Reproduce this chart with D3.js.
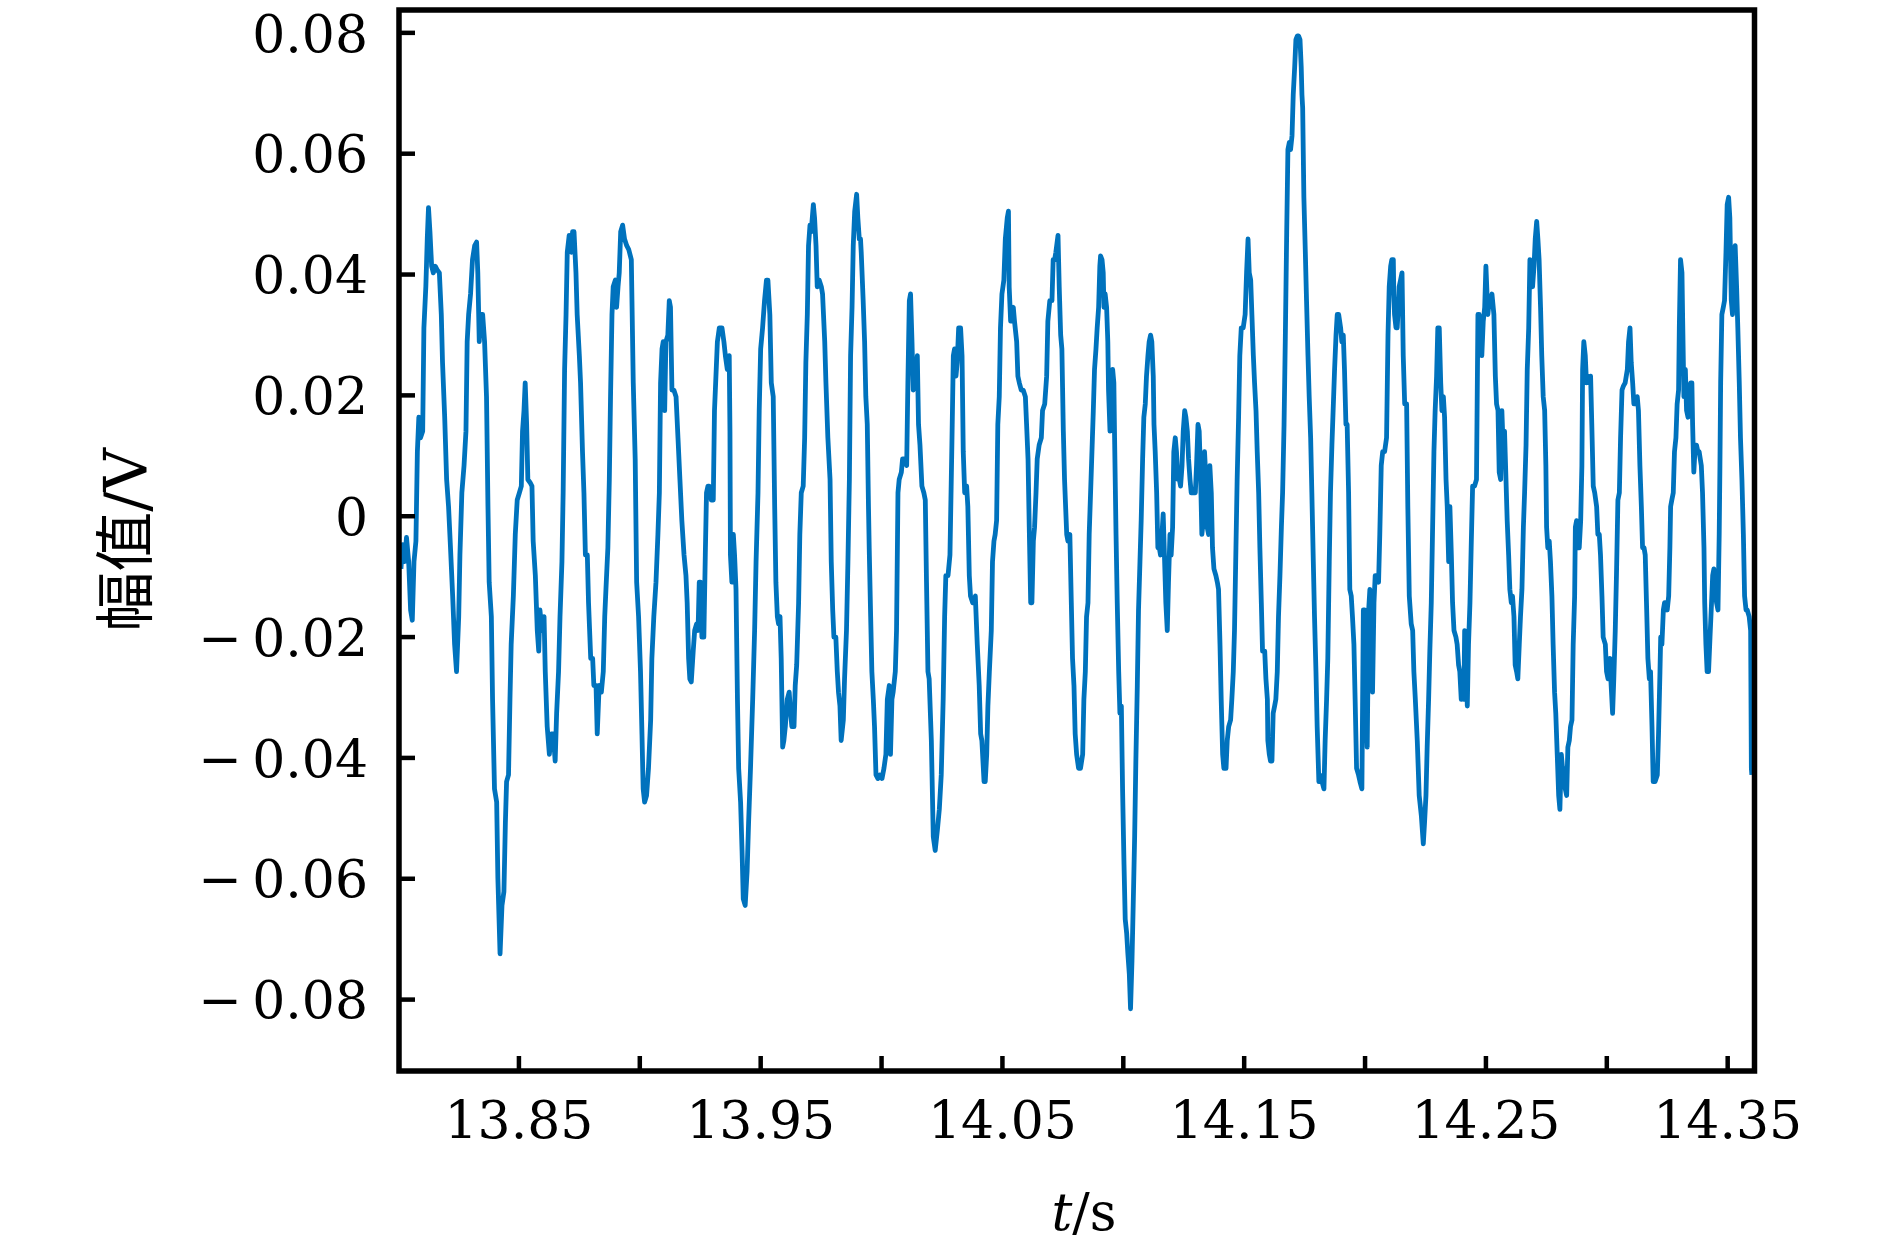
<!DOCTYPE html>
<html>
<head>
<meta charset="utf-8">
<script src="https://cdn.jsdelivr.net/npm/d3@7"></script>
<style>
  html, body { margin: 0; padding: 0; background: #fff; }
  svg { display: block; }
</style>
</head>
<body>
<svg id="chart" width="1890" height="1252"></svg>
<script>
// ---- data ----
const time = [
13.8014,13.8021,13.8029,13.8037,13.8046,13.8054,13.8061,13.8068,13.8076,13.8082,13.8088,13.8095,13.8104,13.8109,13.8117,13.8123,13.8128,13.8134,13.8141,13.8148,13.8156,13.8164,13.8173,13.8181,13.8186,13.8195,13.8203,13.8211,13.8219,13.8228,13.8236,13.8244,13.8253,13.8258,13.8266,13.8275,13.8283,13.8288,13.8294,13.8302,13.8310,13.8319,13.8327,13.8332,13.8338,13.8343,13.8352,13.8360,13.8368,13.8374,13.8379,13.8388,13.8393,13.8401,13.8410,13.8415,13.8424,13.8432,13.8440,13.8446,13.8451,13.8459,13.8465,13.8470,13.8479,13.8487,13.8495,13.8504,13.8512,13.8517,13.8523,13.8528,13.8534,13.8539,13.8548,13.8556,13.8561,13.8570,13.8578,13.8584,13.8589,13.8597,13.8606,13.8611,13.8619,13.8628,13.8636,13.8644,13.8652,13.8658,13.8666,13.8672,13.8680,13.8685,13.8691,13.8697,13.8702,13.8710,13.8719,13.8724,13.8730,13.8738,13.8743,13.8752,13.8757,13.8765,13.8771,13.8777,13.8785,13.8790,13.8799,13.8807,13.8812,13.8821,13.8826,13.8834,13.8843,13.8851,13.8857,13.8862,13.8870,13.8876,13.8881,13.8887,13.8892,13.8901,13.8906,13.8912,13.8917,13.8923,13.8931,13.8939,13.8948,13.8956,
13.8967,13.8975,13.8983,13.8989,13.8997,13.9005,13.9011,13.9016,13.9022,13.9030,13.9038,13.9047,13.9052,13.9060,13.9069,13.9077,13.9083,13.9088,13.9094,13.9099,13.9105,13.9110,13.9118,13.9124,13.9129,13.9135,13.9143,13.9152,13.9160,13.9168,13.9176,13.9185,13.9193,13.9198,13.9204,13.9209,13.9215,13.9223,13.9229,13.9237,13.9243,13.9248,13.9253,13.9259,13.9267,13.9273,13.9278,13.9284,13.9289,13.9298,13.9306,13.9311,13.9317,13.9323,13.9331,13.9342,13.9350,13.9356,13.9364,13.9372,13.9375,13.9377,13.9383,13.9389,13.9394,13.9400,13.9406,13.9411,13.9419,13.9425,13.9430,13.9438,13.9446,13.9452,13.9460,13.9469,13.9477,13.9483,13.9491,13.9496,13.9502,13.9510,13.9518,13.9526,13.9532,13.9540,13.9546,13.9554,13.9560,13.9565,13.9571,13.9576,13.9582,13.9587,13.9593,13.9598,13.9604,13.9612,13.9620,13.9626,13.9631,13.9640,13.9645,13.9651,13.9659,13.9664,13.9670,13.9678,13.9684,13.9689,13.9695,13.9700,13.9706,13.9711,13.9720,13.9725,13.9731,13.9736,13.9744,13.9753,13.9758,13.9767,13.9772,13.9780,13.9789,13.9794,13.9800,13.9805,13.9813,13.9819,13.9824,13.9830,13.9835,13.9844,13.9849,13.9857,13.9863,13.9869,13.9874,13.9880,13.9885,13.9891,13.9899,13.9904,13.9910,13.9915,
13.9918,13.9926,13.9932,13.9937,13.9943,13.9948,13.9951,13.9957,13.9962,13.9968,13.9973,13.9979,13.9987,13.9995,14.0004,14.0012,14.0020,14.0026,14.0034,14.0039,14.0045,14.0050,14.0059,14.0064,14.0070,14.0075,14.0084,14.0089,14.0097,14.0106,14.0111,14.0117,14.0122,14.0128,14.0133,14.0141,14.0150,14.0155,14.0161,14.0169,14.0177,14.0183,14.0188,14.0194,14.0199,14.0208,14.0216,14.0224,14.0233,14.0241,14.0249,14.0257,14.0263,14.0268,14.0277,14.0285,14.0293,14.0299,14.0304,14.0310,14.0315,14.0321,14.0329,14.0335,14.0340,14.0346,14.0354,14.0359,14.0365,14.0370,14.0379,14.0390,14.0398,14.0406,14.0412,14.0417,14.0426,14.0431,14.0437,14.0442,14.0448,14.0456,14.0461,14.0467,14.0472,14.0478,14.0483,14.0489,14.0494,14.0500,14.0508,14.0514,14.0522,14.0527,14.0530,14.0536,14.0541,14.0547,14.0552,14.0561,14.0566,14.0572,14.0580,14.0588,14.0597,14.0602,14.0608,14.0613,14.0619,14.0624,14.0630,14.0635,14.0641,14.0646,14.0654,14.0663,14.0668,14.0677,14.0685,14.0690,14.0698,14.0707,14.0712,14.0718,14.0723,14.0732,14.0737,14.0743,14.0748,14.0754,14.0759,14.0768,14.0773,14.0781,14.0787,14.0792,14.0798,14.0803,14.0809,14.0817,14.0825,14.0834,14.0839,14.0845,14.0850,14.0856,14.0861,
14.0878,14.0883,14.0889,14.0894,14.0900,14.0905,14.0908,14.0914,14.0919,14.0922,14.0927,14.0933,14.0938,14.0941,14.0947,14.0952,14.0958,14.0963,14.0966,14.0972,14.0977,14.0983,14.0988,14.0994,14.0999,14.1005,14.1010,14.1016,14.1021,14.1027,14.1032,14.1038,14.1043,14.1049,14.1054,14.1060,14.1065,14.1071,14.1076,14.1082,14.1087,14.1093,14.1098,14.1104,14.1109,14.1115,14.1120,14.1126,14.1129,14.1134,14.1140,14.1145,14.1151,14.1156,14.1162,14.1167,14.1173,14.1178,14.1184,14.1189,14.1195,14.1200,14.1206,14.1211,14.1217,14.1222,14.1228,14.1234,14.1239,14.1245,14.1250,14.1256,14.1261,14.1267,14.1272,14.1278,14.1283,14.1289,14.1294,14.1300,14.1305,14.1311,14.1316,14.1322,14.1327,14.1333,14.1338,14.1344,14.1349,14.1355,14.1360,14.1366,14.1371,14.1377,14.1385,14.1391,14.1396,14.1402,14.1407,14.1413,14.1418,14.1427,14.1432,14.1438,14.1446,14.1451,14.1457,14.1462,14.1468,14.1473,14.1479,14.1484,14.1490,14.1498,14.1506,14.1512,14.1518,14.1523,14.1529,14.1534,14.1540,14.1545,14.1551,14.1556,14.1562,14.1567,14.1573,14.1578,14.1587,14.1592,14.1598,14.1600,14.1606,14.1611,14.1617,14.1622,14.1628,14.1633,14.1639,14.1644,14.1650,14.1656,14.1661,14.1667,14.1672,14.1678,14.1683,14.1689,14.1694,14.1700,14.1705,14.1711,14.1716,14.1722,14.1727,14.1733,14.1738,14.1741,14.1744,14.1749,14.1755,14.1760,14.1766,14.1771,14.1777,14.1782,14.1788,14.1793,14.1799,14.1804,14.1811,
14.1815,14.1824,14.1832,14.1837,14.1843,14.1848,14.1854,14.1859,14.1865,14.1870,14.1876,14.1882,14.1887,14.1893,14.1901,14.1906,14.1912,14.1917,14.1923,14.1928,14.1934,14.1939,14.1945,14.1950,14.1956,14.1961,14.1967,14.1975,14.1981,14.1989,14.1995,14.2000,14.2006,14.2011,14.2017,14.2022,14.2028,14.2033,14.2039,14.2044,14.2052,14.2058,14.2063,14.2069,14.2075,14.2083,14.2091,14.2097,14.2102,14.2108,14.2113,14.2119,14.2121,14.2124,14.2130,14.2135,14.2141,14.2143,14.2149,14.2155,14.2160,14.2166,14.2174,14.2179,14.2185,14.2193,14.2199,14.2204,14.2210,14.2218,14.2226,14.2235,14.2243,14.2248,14.2254,14.2259,14.2265,14.2270,14.2276,14.2281,14.2287,14.2292,14.2298,14.2303,14.2309,14.2315,14.2320,14.2326,14.2331,14.2337,14.2342,14.2348,14.2353,14.2359,14.2364,14.2370,14.2378,14.2383,14.2389,14.2394,14.2400,14.2406,14.2411,14.2414,14.2419,14.2425,14.2430,14.2436,14.2441,14.2447,14.2455,14.2463,14.2469,14.2474,14.2480,14.2485,14.2491,14.2497,14.2502,14.2510,14.2516,14.2521,14.2527,14.2535,14.2541,14.2546,14.2552,14.2557,14.2563,14.2568,14.2574,14.2579,14.2585,14.2590,14.2596,14.2601,14.2607,14.2612,14.2618,14.2623,14.2629,14.2634,14.2640,14.2645,14.2651,14.2657,14.2662,14.2668,14.2673,14.2679,14.2684,14.2690,14.2695,14.2701,14.2706,14.2712,14.2717,14.2722,14.2728,14.2733,14.2739,14.2745,14.2750,
14.2753,14.2758,14.2764,14.2769,14.2775,14.2780,14.2786,14.2791,14.2797,14.2803,14.2808,14.2814,14.2819,14.2825,14.2830,14.2836,14.2841,14.2847,14.2852,14.2858,14.2863,14.2869,14.2872,14.2877,14.2883,14.2888,14.2894,14.2899,14.2902,14.2907,14.2913,14.2918,14.2924,14.2929,14.2935,14.2940,14.2946,14.2952,14.2960,14.2965,14.2971,14.2976,14.2982,14.2987,14.2996,14.3001,14.3007,14.3015,14.3020,14.3026,14.3031,14.3037,14.3042,14.3048,14.3054,14.3059,14.3065,14.3070,14.3078,14.3087,14.3092,14.3098,14.3103,14.3109,14.3114,14.3122,14.3128,14.3133,14.3139,14.3145,14.3150,14.3156,14.3161,14.3167,14.3172,14.3178,14.3183,14.3189,14.3194,14.3202,14.3211,14.3216,14.3222,14.3225,14.3230,14.3236,14.3241,14.3247,14.3252,14.3258,14.3263,14.3266,14.3271,14.3277,14.3282,14.3288,14.3293,14.3299,14.3302,14.3307,14.3313,14.3316,14.3321,14.3327,14.3332,14.3338,14.3343,14.3349,14.3354,14.3357,14.3362,14.3368,14.3373,14.3379,14.3384,14.3393,14.3398,14.3404,14.3407,14.3412,14.3417,14.3423,14.3429,14.3434,14.3440,14.3445,14.3451,14.3456,14.3462,14.3467,14.3470,14.3473,14.3478,14.3484,14.3489,14.3495,14.3500,14.3506,14.3511,14.3517,14.3522,14.3528,14.3533,14.3539,14.3544,14.3550,14.3555,14.3561,14.3567,14.3572,14.3578,14.3583,14.3591,14.3597,14.3600,14.3602
];
const amplitude = [
-0.0088,-0.0048,-0.0076,-0.0036,-0.0076,-0.0156,-0.0173,-0.0076,-0.0042,0.0106,0.0163,0.0129,0.0140,0.0311,0.0379,0.0459,0.0510,0.0470,0.0413,0.0402,0.0413,0.0407,0.0402,0.0333,0.0254,0.0163,0.0060,0.0015,-0.0053,-0.0133,-0.0213,-0.0258,-0.0167,-0.0065,0.0038,0.0083,0.0140,0.0288,0.0333,0.0367,0.0424,0.0447,0.0453,0.0402,0.0288,0.0333,0.0333,0.0288,0.0197,0.0015,-0.0110,-0.0167,-0.0304,-0.0452,-0.0474,-0.0600,-0.0725,-0.0645,-0.0622,-0.0509,-0.0440,-0.0429,-0.0304,-0.0213,-0.0133,-0.0031,0.0026,0.0038,0.0049,0.0140,0.0174,0.0220,0.0151,0.0060,0.0055,0.0049,-0.0042,-0.0099,-0.0190,-0.0224,-0.0156,-0.0190,-0.0167,-0.0258,-0.0349,-0.0395,-0.0361,-0.0361,-0.0406,-0.0327,-0.0258,-0.0167,-0.0076,0.0038,0.0242,0.0333,0.0436,0.0464,0.0436,0.0470,0.0470,0.0402,0.0333,0.0265,0.0220,0.0106,0.0038,-0.0065,-0.0065,-0.0144,-0.0236,-0.0236,-0.0281,-0.0281,-0.0361,-0.0281,-0.0292,-0.0258,-0.0167,-0.0122,-0.0053,0.0060,0.0197,0.0333,0.0379,0.0390,0.0345,0.0379,0.0402,0.0470,0.0481,0.0458,0.0447,0.0441,
0.0424,0.0220,0.0094,-0.0110,-0.0167,-0.0258,-0.0361,-0.0452,-0.0474,-0.0463,-0.0418,-0.0338,-0.0236,-0.0167,-0.0110,-0.0031,0.0038,0.0220,0.0276,0.0288,0.0174,0.0288,0.0299,0.0356,0.0345,0.0208,0.0208,0.0197,0.0129,0.0060,-0.0008,-0.0065,-0.0099,-0.0144,-0.0236,-0.0270,-0.0275,-0.0224,-0.0190,-0.0179,-0.0190,-0.0110,-0.0110,-0.0201,-0.0201,-0.0065,0.0038,0.0049,0.0049,0.0026,0.0026,0.0174,0.0231,0.0288,0.0311,0.0311,0.0288,0.0265,0.0242,0.0265,0.0140,-0.0065,-0.0110,-0.0031,-0.0065,-0.0122,-0.0304,-0.0418,-0.0474,-0.0554,-0.0634,-0.0645,-0.0588,-0.0509,-0.0418,-0.0304,-0.0190,-0.0076,0.0038,0.0174,0.0276,0.0311,0.0356,0.0390,0.0390,0.0333,0.0220,0.0197,0.0015,-0.0110,-0.0167,-0.0179,-0.0167,-0.0236,-0.0383,-0.0372,-0.0349,-0.0304,-0.0292,-0.0327,-0.0349,-0.0349,-0.0281,-0.0247,-0.0144,-0.0031,0.0038,0.0049,0.0129,0.0254,0.0333,0.0447,0.0481,0.0470,0.0515,0.0493,0.0447,0.0379,0.0390,0.0379,0.0367,0.0288,0.0220,0.0129,0.0060,-0.0076,-0.0156,-0.0201,-0.0201,-0.0258,-0.0292,-0.0315,-0.0372,-0.0338,-0.0270,-0.0190,-0.0076,0.0060,0.0265,0.0345,0.0447,0.0504,0.0532,0.0493,0.0458,0.0458,
0.0436,0.0356,0.0288,0.0197,0.0151,0.0015,-0.0053,-0.0167,-0.0258,-0.0304,-0.0349,-0.0429,-0.0435,-0.0429,-0.0435,-0.0418,-0.0395,-0.0304,-0.0281,-0.0395,-0.0304,-0.0292,-0.0258,-0.0190,0.0038,0.0060,0.0072,0.0094,0.0094,0.0083,0.0220,0.0356,0.0367,0.0288,0.0208,0.0220,0.0265,0.0151,0.0117,0.0049,0.0038,0.0026,-0.0110,-0.0258,-0.0270,-0.0372,-0.0531,-0.0554,-0.0520,-0.0486,-0.0429,-0.0304,-0.0167,-0.0099,-0.0099,-0.0065,0.0117,0.0265,0.0276,0.0231,0.0254,0.0311,0.0311,0.0265,0.0106,0.0038,0.0049,0.0015,-0.0099,-0.0133,-0.0144,-0.0133,-0.0213,-0.0281,-0.0361,-0.0372,-0.0440,-0.0440,-0.0395,-0.0315,-0.0258,-0.0190,-0.0076,-0.0042,-0.0031,-0.0008,0.0151,0.0197,0.0311,0.0367,0.0390,0.0458,0.0493,0.0504,0.0379,0.0322,0.0322,0.0345,0.0322,0.0288,0.0231,0.0220,0.0208,0.0208,0.0197,0.0151,0.0094,-0.0019,-0.0144,-0.0144,-0.0042,-0.0019,0.0038,0.0094,0.0117,0.0129,0.0174,0.0185,0.0231,0.0322,0.0356,0.0356,0.0424,0.0424,0.0436,0.0464,0.0379,0.0299,0.0276,0.0140,0.0060,-0.0031,-0.0042,-0.0031,-0.0144,-0.0236,-0.0281,-0.0361,-0.0395,-0.0418,-0.0418,-0.0395,-0.0304,-0.0258,-0.0167,-0.0144,-0.0031,
0.0174,0.0242,0.0276,0.0311,0.0345,0.0413,0.0430,0.0424,0.0402,0.0345,0.0367,0.0345,0.0288,0.0208,0.0140,0.0197,0.0242,0.0220,0.0129,-0.0031,-0.0144,-0.0258,-0.0327,-0.0315,-0.0452,-0.0577,-0.0668,-0.0691,-0.0725,-0.0759,-0.0816,-0.0736,-0.0645,-0.0531,-0.0406,-0.0281,-0.0156,-0.0076,-0.0008,0.0094,0.0163,0.0185,0.0231,0.0265,0.0288,0.0299,0.0288,0.0231,0.0151,0.0106,0.0038,-0.0053,-0.0053,-0.0065,-0.0031,0.0003,-0.0076,-0.0144,-0.0190,-0.0110,-0.0031,-0.0065,-0.0019,0.0106,0.0129,0.0106,0.0060,0.0060,0.0049,0.0083,0.0140,0.0174,0.0163,0.0140,0.0094,0.0060,0.0038,0.0038,0.0038,0.0038,0.0083,0.0151,0.0140,0.0060,-0.0031,-0.0008,0.0106,0.0060,-0.0019,-0.0031,0.0083,0.0038,-0.0053,-0.0088,-0.0099,-0.0110,-0.0122,-0.0213,-0.0304,-0.0395,-0.0418,-0.0418,-0.0372,-0.0349,-0.0338,-0.0304,-0.0258,-0.0190,-0.0053,0.0060,0.0163,0.0265,0.0311,0.0311,0.0333,0.0402,0.0458,0.0402,0.0390,0.0333,0.0265,0.0220,0.0174,0.0106,0.0038,-0.0053,-0.0144,-0.0224,-0.0224,-0.0270,-0.0304,-0.0372,-0.0395,-0.0406,-0.0406,-0.0327,-0.0315,-0.0304,-0.0258,-0.0167,-0.0099,-0.0019,0.0038,0.0151,0.0288,0.0470,0.0606,0.0618,0.0606,0.0629,0.0697,0.0743,0.0788,0.0794,0.0794,0.0788,0.0743,0.0697,0.0675,0.0527,0.0436,0.0356,0.0265,0.0197,0.0129,0.0038,-0.0076,-0.0167,-0.0258,-0.0349,-0.0440,
-0.0429,-0.0440,-0.0452,-0.0372,-0.0304,-0.0236,-0.0076,0.0038,0.0117,0.0174,0.0242,0.0299,0.0333,0.0333,0.0311,0.0288,0.0299,0.0242,0.0151,0.0151,0.0038,-0.0122,-0.0133,-0.0167,-0.0213,-0.0304,-0.0418,-0.0429,-0.0440,-0.0452,-0.0156,-0.0156,-0.0304,-0.0383,-0.0156,-0.0122,-0.0190,-0.0292,-0.0144,-0.0099,-0.0099,-0.0110,-0.0031,0.0083,0.0106,0.0106,0.0129,0.0299,0.0379,0.0413,0.0424,0.0424,0.0367,0.0333,0.0311,0.0311,0.0356,0.0379,0.0390,0.0402,0.0265,0.0185,0.0185,0.0015,-0.0133,-0.0179,-0.0190,-0.0258,-0.0304,-0.0372,-0.0463,-0.0497,-0.0543,-0.0509,-0.0463,-0.0383,-0.0304,-0.0224,-0.0144,-0.0031,0.0106,0.0174,0.0231,0.0311,0.0311,0.0220,0.0174,0.0197,0.0163,0.0060,0.0015,-0.0076,0.0015,-0.0065,-0.0144,-0.0190,-0.0201,-0.0213,-0.0247,-0.0258,-0.0304,-0.0292,-0.0304,-0.0190,-0.0213,-0.0315,-0.0213,-0.0144,-0.0053,0.0049,0.0049,0.0060,0.0333,0.0333,0.0288,0.0265,0.0322,0.0345,0.0413,0.0333,0.0356,0.0356,0.0367,0.0333,0.0231,0.0185,0.0174,0.0072,0.0060,0.0174,0.0106,0.0140,0.0060,-0.0008,-0.0065,-0.0122,-0.0144,-0.0133,-0.0167,-0.0247,-0.0258,-0.0270,-0.0213,-0.0167,-0.0122,-0.0019,0.0038,0.0117,0.0242,0.0311,0.0424,0.0402,0.0379,0.0413,0.0458,0.0487,0.0458,0.0424,0.0345,0.0265,0.0197,0.0174,0.0083,
-0.0019,-0.0053,-0.0042,-0.0076,-0.0133,-0.0213,-0.0292,-0.0327,-0.0395,-0.0463,-0.0486,-0.0395,-0.0418,-0.0418,-0.0452,-0.0463,-0.0383,-0.0372,-0.0349,-0.0338,-0.0213,-0.0133,-0.0019,-0.0008,-0.0053,-0.0053,-0.0008,0.0083,0.0242,0.0288,0.0265,0.0220,0.0231,0.0220,0.0231,0.0151,0.0049,0.0038,0.0015,-0.0031,-0.0031,-0.0065,-0.0133,-0.0201,-0.0213,-0.0258,-0.0270,-0.0236,-0.0281,-0.0327,-0.0270,-0.0190,-0.0099,0.0026,0.0038,0.0129,0.0208,0.0214,0.0220,0.0242,0.0288,0.0311,0.0254,0.0220,0.0185,0.0185,0.0197,0.0174,0.0083,0.0015,-0.0053,-0.0053,-0.0065,-0.0156,-0.0236,-0.0270,-0.0258,-0.0349,-0.0440,-0.0440,-0.0429,-0.0361,-0.0258,-0.0201,-0.0213,-0.0156,-0.0144,-0.0144,-0.0156,-0.0133,-0.0053,0.0015,0.0026,0.0038,0.0106,0.0129,0.0185,0.0208,0.0311,0.0424,0.0402,0.0322,0.0197,0.0242,0.0174,0.0163,0.0208,0.0220,0.0220,0.0151,0.0072,0.0117,0.0117,0.0106,0.0106,0.0083,0.0038,-0.0053,-0.0144,-0.0213,-0.0258,-0.0258,-0.0201,-0.0156,-0.0099,-0.0088,-0.0122,-0.0144,-0.0156,-0.0031,0.0083,0.0220,0.0333,0.0345,0.0356,0.0436,0.0515,0.0527,0.0493,0.0356,0.0333,0.0436,0.0447,0.0379,0.0311,0.0220,0.0129,0.0060,-0.0031,-0.0133,-0.0156,-0.0156,-0.0167,-0.0190,-0.0418,-0.0429
];
const xDomain = [13.8006, 14.3613];
const yDomain = [-0.0919, 0.0837];
const xTickValues = [13.85, 13.90, 13.95, 14.00, 14.05, 14.10, 14.15, 14.20, 14.25, 14.30, 14.35];
const xTickLabels = ["13.85", "", "13.95", "", "14.05", "", "14.15", "", "14.25", "", "14.35"];
const yTickValues = [-0.08, -0.06, -0.04, -0.02, 0, 0.02, 0.04, 0.06, 0.08];
const yTickLabels = ["\u2212\u20090.08", "\u2212\u20090.06", "\u2212\u20090.04", "\u2212\u20090.02", "0", "0.02", "0.04", "0.06", "0.08"];
const xLabel = ["t", "/s"];
const yLabel = ["幅值", "/V"];

// ---- drawing ----
const svg = d3.select("#chart");
const plot = { left: 399, right: 1754.5, top: 10, bottom: 1071 };
const serif = "'DejaVu Serif', 'Liberation Serif', serif";
const fontSize = 52;

const x = d3.scaleLinear().domain(xDomain).range([plot.left, plot.right]);
const y = d3.scaleLinear().domain(yDomain).range([plot.bottom, plot.top]);

svg.append("rect").attr("width", 1890).attr("height", 1252).attr("fill", "#fff");

svg.append("defs").append("clipPath").attr("id", "clip")
  .append("rect")
  .attr("x", plot.left).attr("y", plot.top)
  .attr("width", plot.right - plot.left).attr("height", plot.bottom - plot.top);

const data = time.map((t, i) => [t, amplitude[i]]);
const line = d3.line().x(d => x(d[0])).y(d => y(d[1]));

svg.append("path")
  .datum(data)
  .attr("clip-path", "url(#clip)")
  .attr("fill", "none")
  .attr("stroke", "#0072BD")
  .attr("stroke-width", 4.8)
  .attr("stroke-linejoin", "round")
  .attr("d", line);

// axes
const xAxis = d3.axisBottom(x)
  .tickValues(xTickValues)
  .tickFormat((d, i) => xTickLabels[i])
  .tickSize(-15)
  .tickPadding(30);
const gx = svg.append("g")
  .attr("transform", `translate(0,${plot.bottom})`)
  .call(xAxis);
gx.select(".domain").remove();
gx.selectAll(".tick line").attr("stroke", "#000").attr("stroke-width", 4.5);
gx.selectAll(".tick text")
  .attr("fill", "#000")
  .style("font-family", serif)
  .style("font-size", fontSize + "px");

const yAxis = d3.axisLeft(y)
  .tickValues(yTickValues)
  .tickFormat((d, i) => yTickLabels[i])
  .tickSize(-16)
  .tickPadding(31);
const gy = svg.append("g")
  .attr("transform", `translate(${plot.left},0)`)
  .call(yAxis);
gy.select(".domain").remove();
gy.selectAll(".tick line").attr("stroke", "#000").attr("stroke-width", 4.5);
gy.selectAll(".tick text")
  .attr("fill", "#000")
  .attr("dy", "0.36em")
  .style("font-family", serif)
  .style("font-size", fontSize + "px");

// frame
svg.append("rect")
  .attr("x", plot.left).attr("y", plot.top)
  .attr("width", plot.right - plot.left).attr("height", plot.bottom - plot.top)
  .attr("fill", "none")
  .attr("stroke", "#000")
  .attr("stroke-width", 5.5);

// x label
const xl = svg.append("text")
  .attr("x", 1084).attr("y", 1230)
  .attr("text-anchor", "middle")
  .style("font-family", serif)
  .style("font-size", fontSize + "px")
  .attr("fill", "#000");
xl.append("tspan").style("font-style", "italic").text(xLabel[0]);
xl.append("tspan").text(xLabel[1]);

// y label
const yl = svg.append("text")
  .attr("transform", "translate(147,540) rotate(-90)")
  .attr("text-anchor", "middle")
  .style("font-size", "60px")
  .attr("fill", "#000");
yl.append("tspan").style("font-family", "'Noto Sans CJK SC', sans-serif").text(yLabel[0]);
yl.append("tspan").style("font-family", serif).text(yLabel[1]);
</script>
</body>
</html>
